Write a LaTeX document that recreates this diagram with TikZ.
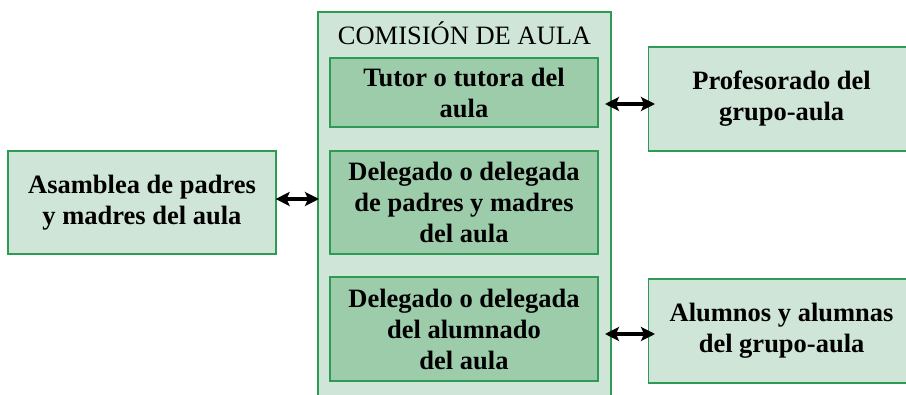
\documentclass[tikz,border=0pt]{standalone}
\usepackage{fontspec}
\setmainfont{Liberation Serif}
\usetikzlibrary{arrows.meta}
\definecolor{lightg}{HTML}{CFE5D7}
\definecolor{darkg}{HTML}{9DCCAB}
\definecolor{edgeg}{HTML}{2E9B55}
\tikzset{
  box/.style={draw=edgeg, line width=1.2pt, fill=lightg, align=center, inner sep=0pt,
    font=\fontsize{26.5}{31}\selectfont\bfseries},
  innerbox/.style={box, fill=darkg},
  link/.style={line width=3.2pt, {Stealth[length=14pt,width=14pt,inset=3pt]}-{Stealth[length=14pt,width=14pt,inset=3pt]}},
}
\begin{document}
\begin{tikzpicture}[x=1pt,y=-1pt]
\useasboundingbox (0,0) rectangle (906,395);
\clip (0,0) rectangle (906,395);
% outer commission frame (open at the bottom)
\fill[lightg] (318,12) rectangle (611,400);
\draw[edgeg, line width=1.2pt] (318,400) -- (318,12) -- (611,12) -- (611,400);
\node[font=\fontsize{26.5}{30}\selectfont] (title) at (464.5,33) {COMISIÓN DE AULA};
% inner boxes
\node[innerbox, minimum width=268pt, minimum height=69pt] (tutor) at (464,92.5) {Tutor o tutora del\\aula};
\node[innerbox, minimum width=268pt, minimum height=103pt] (delpad) at (464,202.5) {Delegado o delegada\\de padres y madres\\del aula};
\node[innerbox, minimum width=268pt, minimum height=104pt] (delalu) at (464,329) {Delegado o delegada\\del alumnado\\del aula};
% outside boxes
\node[box, minimum width=268pt, minimum height=103pt] (asam) at (142,202.5) {Asamblea de padres\\y madres del aula};
\node[box, minimum width=266pt, minimum height=104pt, anchor=west] (prof) at (648,99) {Profesorado del\\grupo-aula};
\node[box, minimum width=266pt, minimum height=104pt, anchor=west] (alum) at (648,331) {Alumnos y alumnas\\del grupo-aula};
% connectors
\coordinate (aR) at ([xshift=-1pt]asam.east);
\coordinate (pL) at (319,199);
\draw[link] (aR |- pL) -- (pL);
\coordinate (tR) at (605,104);
\coordinate (prL) at (655,104);
\draw[link] (tR) -- (prL);
\coordinate (dR) at (605,334);
\coordinate (alL) at (655,334);
\draw[link] (dR) -- (alL);
\end{tikzpicture}
\end{document}
